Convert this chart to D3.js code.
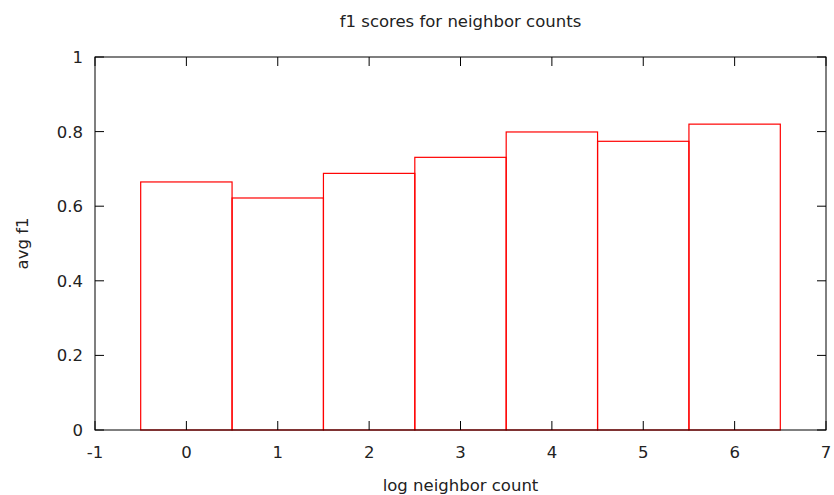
<!DOCTYPE html>
<html>
<head>
<meta charset="utf-8">
<script src="https://cdn.jsdelivr.net/npm/d3@7"></script>
<style>
  body { margin: 0; background: #fff; }
  text { font-family: "DejaVu Sans", sans-serif; fill: #222; }
</style>
</head>
<body>
<div id="chart"></div>
<script>
// data
var categories = [0, 1, 2, 3, 4, 5, 6];
var avgF1 = [0.665, 0.622, 0.688, 0.731, 0.799, 0.774, 0.820];
var xTicks = [-1, 0, 1, 2, 3, 4, 5, 6, 7];
var yTicks = [0, 0.2, 0.4, 0.6, 0.8, 1];

var W = 834, H = 495;
var margin = {top: 57, right: 8, bottom: 65, left: 95};
var width = W - margin.left - margin.right,
    height = H - margin.top - margin.bottom;

var svg = d3.select("#chart").append("svg")
    .attr("width", W)
    .attr("height", H);

var g = svg.append("g")
    .attr("transform", "translate(" + margin.left + "," + margin.top + ")");

var x = d3.scaleLinear().domain([-1, 7]).range([0, width]);
var y = d3.scaleLinear().domain([0, 1]).range([height, 0]);

var tickLen = 9;

// bars (outline only, gnuplot style boxes)
g.selectAll(".bar")
    .data(categories)
    .enter().append("rect")
    .attr("class", "bar")
    .attr("x", function(d) { return x(d - 0.5); })
    .attr("y", function(d, i) { return y(avgF1[i]); })
    .attr("width", function(d) { return x(d + 0.5) - x(d - 0.5); })
    .attr("height", function(d, i) { return height - y(avgF1[i]); })
    .attr("fill", "none")
    .attr("stroke", "#ff0000")
    .attr("stroke-width", 1.2);

// inward ticks on all four sides
var ticks = g.append("g").attr("stroke", "#000").attr("stroke-width", 1);
xTicks.forEach(function(t) {
    ticks.append("line").attr("x1", x(t)).attr("x2", x(t)).attr("y1", height).attr("y2", height - tickLen);
    ticks.append("line").attr("x1", x(t)).attr("x2", x(t)).attr("y1", 0).attr("y2", tickLen);
});
yTicks.forEach(function(t) {
    ticks.append("line").attr("x1", 0).attr("x2", tickLen).attr("y1", y(t)).attr("y2", y(t));
    ticks.append("line").attr("x1", width).attr("x2", width - tickLen).attr("y1", y(t)).attr("y2", y(t));
});

// frame
g.append("rect")
    .attr("width", width)
    .attr("height", height)
    .attr("fill", "none")
    .attr("stroke", "#000")
    .attr("stroke-width", 1);

// tick labels
g.selectAll(".xlab")
    .data(xTicks)
    .enter().append("text")
    .attr("x", function(d) { return x(d); })
    .attr("y", height + 28)
    .attr("text-anchor", "middle")
    .style("font-size", "16.5px")
    .text(function(d) { return d; });

g.selectAll(".ylab")
    .data(yTicks)
    .enter().append("text")
    .attr("x", -12)
    .attr("y", function(d) { return y(d) + 6; })
    .attr("text-anchor", "end")
    .style("font-size", "16.5px")
    .text(function(d) { return d; });

// titles
svg.append("text")
    .attr("x", margin.left + width / 2)
    .attr("y", 27)
    .attr("text-anchor", "middle")
    .style("font-size", "16.5px")
    .text("f1 scores for neighbor counts");

svg.append("text")
    .attr("x", margin.left + width / 2)
    .attr("y", 491)
    .attr("text-anchor", "middle")
    .style("font-size", "16.5px")
    .text("log neighbor count");

svg.append("text")
    .attr("transform", "translate(28," + (margin.top + height / 2) + ") rotate(-90)")
    .attr("text-anchor", "middle")
    .style("font-size", "16.5px")
    .text("avg f1");
</script>
</body>
</html>
